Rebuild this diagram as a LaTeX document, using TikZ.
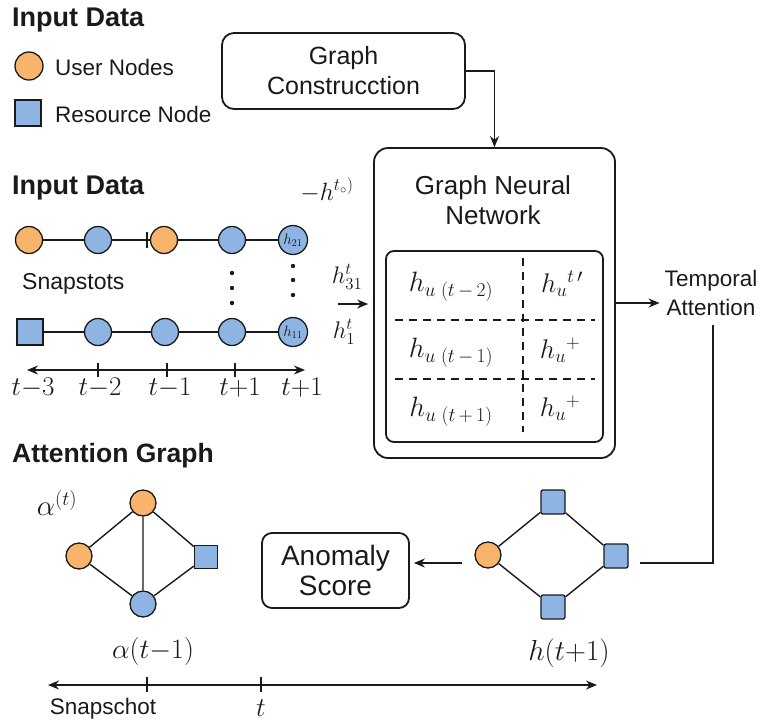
\RequirePackage{fix-cm}
\documentclass[tikz,border=0pt]{standalone}
\usepackage[no-math]{fontspec}
\setmainfont{Liberation Sans}
\usetikzlibrary{arrows.meta}
\definecolor{uorange}{HTML}{F8B46A}
\definecolor{rblue}{HTML}{8DB4E2}
\definecolor{ink}{HTML}{1A1A1A}
\newcommand\fsz[1]{\fontsize{#1}{#1}\selectfont}
\begin{document}
\begin{tikzpicture}[x=1pt,y=-1pt,
  every node/.style={inner sep=0pt, text=ink},
  head/.style={font=\fsz{27}\bfseries, anchor=west},
  txt/.style={font=\fontsize{22.5}{29}\selectfont},
  mth/.style={font=\fsz{27}},
  unode/.style={circle, draw=ink, line width=1.3pt, fill=uorange, minimum size=27pt},
  bnode/.style={circle, draw=ink, line width=1.3pt, fill=rblue, minimum size=27pt},
  rsq/.style={rectangle, rounded corners=2pt, draw=ink, line width=1.3pt, fill=rblue, minimum size=24pt},
  lnk/.style={draw=ink, line width=1.4pt},
  box/.style={draw=ink, rounded corners=12pt, line width=1.8pt},
  arr/.style={draw=ink, line width=1.4pt, -{Stealth[length=11pt,width=9pt]}},
  dsh/.style={draw=ink, line width=1.1pt, dash pattern=on 8pt off 6pt},
  tk/.style={draw=ink, line width=1.3pt}
]
\useasboundingbox (0,0) rectangle (763,724);

% headings
\node[head] (h1) at (12,20) {Input Data};
\node[head] (h2) at (12,188) {Input Data};
\node[head, font=\fsz{26.5}\bfseries] (h3) at (12,456) {Attention Graph};

% legend
\node[unode, minimum size=28pt] (legu) at (29,66) {};
\node[rsq, rounded corners=0pt, minimum size=26pt] (legr) at (28,113) {};
\node[txt, anchor=west] (legut) at (55,67) {User Nodes};
\node[txt, anchor=west] (legrt) at (55,114) {Resource Node};

% graph construction
\node[box, minimum width=243pt, minimum height=76pt, align=center,
      font=\fontsize{25}{30}\selectfont] (gc) at (343.5,71) {Graph\\Construcction};

% GNN
\node[box, rounded corners=14pt, minimum width=241pt, minimum height=310pt] (gnn) at (494.5,303) {};
\node[align=center, font=\fontsize{26}{30}\selectfont] (gnnt) at (493,200) {Graph Neural\\Network};
\node[draw=ink, line width=1.8pt, rounded corners=8pt, minimum width=217pt, minimum height=191pt] (tab) at (494.5,346.5) {};
\draw[dsh] (395,320) -- (595,320);
\draw[dsh] (395,379) -- (595,379);
\draw[dsh] (523,258) -- (523,432);
\node[font=\fsz{28}] (e11) at (451,287) {$h_{u\;(t\,-\,2)}$};
\node[font=\fsz{28}] (e21) at (451,353) {$h_{u\;(t\,-\,1)}$};
\node[font=\fsz{28}] (e31) at (451,412) {$h_{u\;(t\,+\,1)}$};
\node[font=\fsz{27}] (e12) at (562,284) {$h_{u}{}^{t\,\prime}$};
\node[font=\fsz{27}] (e22) at (560,350) {$h_{u}{}^{+}$};
\node[font=\fsz{27}] (e32) at (560,408) {$h_{u}{}^{+}$};

\draw[arr] (gc.east) -| (gnn.north);

% temporal attention
\node[txt, align=center] (ta) at (711,293) {Temporal\\Attention};
\draw[arr, shorten >=5pt] (gnn.east) -- (ta.west |- gnn.east);
\coordinate (c1) at (640,563);
\draw[lnk] ([shift={(2,9)}]ta.south) |- (c1);

% right graph
\node[unode, minimum size=26pt] (r0) at (488,555) {};
\node[rsq] (r1) at (553,502) {};
\node[rsq] (r2) at (616,556) {};
\node[rsq] (r3) at (553,607) {};
\draw[lnk] (r0) -- (r1) -- (r2) -- (r3) -- (r0);
\node[mth, font=\fsz{29}] (hlab) at (569,653) {$h(t{+}1)$};

% anomaly score
\node[box, rounded corners=10pt, minimum width=147pt, minimum height=75pt, align=center,
      font=\fontsize{28}{30}\selectfont] (as) at (335.5,570.5) {Anomaly\\Score};
\coordinate (c2) at (462,563);
\draw[arr, shorten >=4pt] (c2) -- (as.east |- c2);

% left attention graph
\node[unode, minimum size=26pt] (lt) at (143,503) {};
\node[unode, minimum size=26pt] (ll) at (79,556) {};
\node[bnode, minimum size=26pt] (lb) at (143,604) {};
\node[rsq, rounded corners=0pt, minimum size=23pt] (ls) at (206,557) {};
\draw[lnk] (lt) -- (ll) -- (lb) -- (ls) -- (lt) -- (lb);
\node[mth, font=\fsz{29}] (alab1) at (57,503) {$\alpha^{(t)}$};
\node[mth, font=\fsz{28}] (alab2) at (153,651) {$\alpha(t{-}1)$};

% bottom axis
\coordinate (ba1) at (48,685);
\coordinate (ba2) at (597,685);
\draw[draw=ink, line width=1.4pt, {Stealth[length=11pt,width=9pt]}-{Stealth[length=11pt,width=9pt]}] (ba1) -- (ba2);
\draw[tk] (147,677) -- (147,692);
\draw[tk] (261,677) -- (261,692);
\node[txt] (snap) at (103,709) {Snapschot};
\node[mth] (tlab) at (261,708) {$t$};

% input rows
\node[unode] (a1) at (29,240) {};
\node[bnode] (a2) at (98,240) {};
\node[unode] (a3) at (164,240) {};
\node[bnode] (a4) at (232,240) {};
\node[bnode, minimum size=29pt, font=\fsz{15}] (a5) at (293,240) {$h_{21}$};
\draw[lnk] (a1) -- (a2) -- (a3) -- (a4) -- (a5);
\draw[tk] (147,232) -- (147,248);

\node[rsq, rounded corners=0pt, minimum size=26pt] (b1) at (30,332) {};
\node[bnode] (b2) at (98,332) {};
\node[bnode] (b3) at (165,332) {};
\node[bnode] (b4) at (232,332) {};
\node[bnode, minimum size=29pt, font=\fsz{15}] (b5) at (293,332) {$h_{11}$};
\draw[lnk] (b1) -- (b2) -- (b3) -- (b4) -- (b5);

\fill[ink] (232,273) circle (2.2pt) (232,288) circle (2.2pt) (232,303) circle (2.2pt);
\fill[ink] (293,266) circle (2.2pt) (293,280) circle (2.2pt) (293,295) circle (2.2pt);

\node[txt, anchor=west, font=\fsz{23}] (snapst) at (22,284) {Snapstots};

% top axis
\coordinate (ta1) at (27,370);
\coordinate (ta2) at (305,370);
\draw[draw=ink, line width=1.4pt, {Stealth[length=11pt,width=9pt]}-{Stealth[length=11pt,width=9pt]}] (ta1) -- (ta2);
\draw[tk] (98,363) -- (98,377);
\draw[tk] (167,363) -- (167,377);
\draw[tk] (235,363) -- (235,377);
\node[mth] (x1) at (33,388) {$t{-}3$};
\node[mth] (x2) at (100,388) {$t{-}2$};
\node[mth] (x3) at (170,388) {$t{-}1$};
\node[mth] (x4) at (240,388) {$t{+}1$};
\node[mth] (x5) at (302,388) {$t{+}1$};

% input labels
\node[mth, font=\fsz{25}] (l1) at (327,190) {$-h^{t_{\circ})}$};
\node[mth, font=\fsz{24}] (l2) at (347,277) {$h^{t}_{31}$};
\node[mth, font=\fsz{24}] (l3) at (344,332) {$h^{t}_{1}$};
\coordinate (c3) at (338,304);
\draw[arr, line width=1.2pt, shorten >=5pt] (c3) -- (gnn.west |- c3);
\end{tikzpicture}
\end{document}
